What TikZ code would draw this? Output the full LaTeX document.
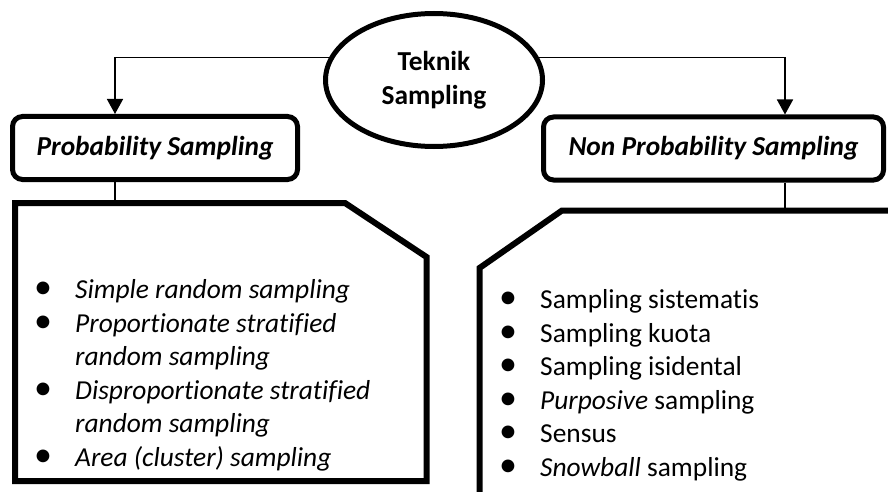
\documentclass[tikz,border=0pt]{standalone}
\usepackage{fontspec}
\setmainfont{Carlito}[Ligatures={NoCommon}]
\usetikzlibrary{shapes.geometric,arrows.meta,positioning}
\newcommand{\blt}{\makebox[20pt][c]{\smash{\fontsize{36}{20}\selectfont\textbullet}}}
\begin{document}
\begin{tikzpicture}[x=1pt, y=-1pt,
    every node/.style={font=\fontsize{27.4}{33.5}\selectfont},
    typebox/.style={draw, line width=5pt, rounded corners=10pt, minimum height=63pt, font=\fontsize{27.4}{33.5}\selectfont\bfseries\itshape},
    listbox/.style={line width=6pt, line join=miter},
    link/.style={line width=1.6pt},
    arrow/.style={link, -{Triangle[length=15pt, width=16pt]}}]
  \useasboundingbox (0,0) rectangle (888,492);

  \node [draw, ellipse, line width=5pt, minimum width=217pt, minimum height=133pt, align=center, font=\fontsize{27.4}{34}\selectfont\bfseries] (teknik) at (434, 80) {Teknik\\Sampling};
  \node [typebox, minimum width=285pt] (prob) at (155, 148) {Probability Sampling};
  \node [typebox, minimum width=340pt] (nonprob) at (713.5, 148.5) {Non Probability Sampling};

  % outline of the two lists
  \coordinate (pltop) at (15, 203);
  \coordinate (nptop) at (562, 210.5);
  \draw [listbox] (15, 481) -- (pltop) -- (345, 203) -- (426.5, 257) -- (426.5, 481) -- cycle;
  \draw [listbox] (479.5, 492) -- (479.5, 268) -- (nptop) -- (888, 210.5);

  \node [anchor=north west, inner sep=0pt] (problist) at (33, 275) {%
    \begin{tabular}{@{}p{42pt}@{}l@{}}
      \blt & \textit{Simple random sampling}\\
      \blt & \textit{Proportionate stratified}\\
           & \textit{random sampling}\\
      \blt & \textit{Disproportionate stratified}\\
           & \textit{random sampling}\\
      \blt & \textit{Area (cluster) sampling}
    \end{tabular}};
  \node [anchor=north west, inner sep=0pt] (nonproblist) at (498, 285) {%
    \begin{tabular}{@{}p{42pt}@{}l@{}}
      \blt & Sampling sistematis\\
      \blt & Sampling kuota\\
      \blt & Sampling isidental\\
      \blt & \textit{Purposive} sampling\\
      \blt & Sensus\\
      \blt & \textit{Snowball} sampling
    \end{tabular}};

  \draw [arrow] (teknik.168) -| ([xshift=-40pt]prob.north);
  \draw [arrow] (teknik.12) -| ([xshift=71.5pt]nonprob.north);
  \draw [link] ([xshift=-40pt]prob.south) -- ([xshift=-40pt]prob.south |- pltop);
  \draw [link] ([xshift=71.5pt]nonprob.south) -- ([xshift=71.5pt]nonprob.south |- nptop);
\end{tikzpicture}
\end{document}
